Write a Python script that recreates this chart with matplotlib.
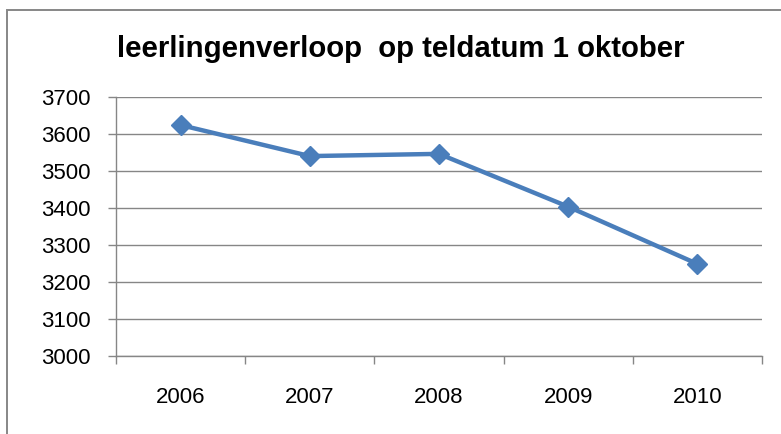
import matplotlib
matplotlib.use("Agg")
import matplotlib.pyplot as plt
from matplotlib.patches import Rectangle

years = ["2006", "2007", "2008", "2009", "2010"]
leerlingen = [3624, 3540, 3546, 3403, 3248]
yticks = [3000, 3100, 3200, 3300, 3400, 3500, 3600, 3700]

W, H = 781, 434
fig = plt.figure(figsize=(W / 100, H / 100), dpi=100)
plt.rcParams['font.family'] = ['Liberation Sans', 'DejaVu Sans']

# outer chart border (cropped at right/bottom)
fig.patches.append(Rectangle((7 / W, -0.1), 1.2, (H - 10) / H + 0.1,
                             transform=fig.transFigure, fill=False,
                             edgecolor='#878787', linewidth=1.4))

left, right, top, bottom = 116, 762, 97, 355.5
ax = fig.add_axes([left / W, (H - bottom) / H, (right - left) / W, (bottom - top) / H])

x = list(range(len(years)))
ax.plot(x, leerlingen, color='#4A7EBB', linewidth=3.2, marker='D',
        markersize=10.5, markerfacecolor='#4A7EBB', markeredgecolor='#4A7EBB',
        zorder=3, clip_on=False)

ax.set_xlim(-0.5, len(years) - 0.5)
ax.set_ylim(3000, 3700)
ax.set_yticks(yticks)
ax.set_yticklabels([str(v) for v in yticks], fontsize=16)
ax.set_xticks(x)
ax.set_xticklabels(years, fontsize=16)
ax.set_xticks([i - 0.5 for i in range(len(years) + 1)], minor=True)
ax.tick_params(axis='x', which='major', length=0, pad=22.5)
ax.tick_params(axis='x', which='minor', length=6, width=1, color='#868686', direction='out')
ax.tick_params(axis='y', length=6, width=1, color='#868686', direction='out', pad=12)

ax.grid(axis='y', color='#868686', linewidth=1.0)
ax.set_axisbelow(True)
for s in ['top', 'right']:
    ax.spines[s].set_visible(False)
for s in ['left', 'bottom']:
    ax.spines[s].set_color('#868686')
    ax.spines[s].set_linewidth(1.0)

fig.text(401 / W, 1 - 49 / H, "leerlingenverloop  op teldatum 1 oktober",
         ha='center', va='center', fontsize=21.2, fontweight='bold')

fig.savefig("out.png", dpi=100)
